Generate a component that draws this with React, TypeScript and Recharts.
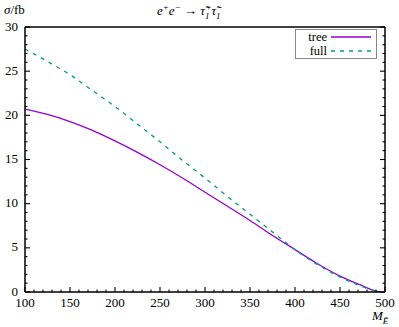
import React from 'react';
import { LineChart, Line, XAxis, YAxis, Legend } from 'recharts';

const mass = [100, 125, 150, 175, 200, 225, 250, 275, 300, 325, 350, 375, 400, 425, 450, 475, 490, 495];
const tree = [20.7, 20.1, 19.3, 18.3, 17.1, 15.8, 14.4, 12.9, 11.3, 9.7, 8.1, 6.4, 4.8, 3.2, 1.8, 0.7, 0.1, 0];
const full = [27.5, 26.1, 24.6, 22.8, 21.0, 19.0, 17.0, 14.9, 12.9, 10.8, 8.8, 6.8, 4.8, 3.1, 1.7, 0.6, 0.1, 0];
const seriesNames = ['tree', 'full'];

const xMajor = [100, 150, 200, 250, 300, 350, 400, 450, 500];
const xMinor = [100, 110, 120, 130, 140, 150, 160, 170, 180, 190, 200, 210, 220, 230, 240, 250, 260, 270, 280, 290, 300, 310, 320, 330, 340, 350, 360, 370, 380, 390, 400, 410, 420, 430, 440, 450, 460, 470, 480, 490, 500];
const yMajor = [0, 5, 10, 15, 20, 25, 30];
const yMinor = [0, 1, 2, 3, 4, 5, 6, 7, 8, 9, 10, 11, 12, 13, 14, 15, 16, 17, 18, 19, 20, 21, 22, 23, 24, 25, 26, 27, 28, 29, 30];

const data = mass.map((m, i) => ({ m, tree: tree[i], full: full[i] }));

const FONT = '"Liberation Serif", "DejaVu Serif", serif';
const PURPLE = '#9400d3';
const GREEN = '#009e73';
const XD: [number, number] = [100, 500];
const YD: [number, number] = [0, 30];
const MAJ = 5;
const MIN = 2.5;

const mkTick = (side: 'bottom' | 'top' | 'left' | 'right', majors: number[], labels: boolean) => (props: any) => {
  const { x, y, payload } = props;
  const v = payload.value;
  const major = majors.includes(v);
  const len = major ? MAJ : MIN;
  let line;
  if (side === 'bottom') line = <line x1={x} x2={x} y1={y} y2={y - len} stroke="#000" strokeWidth={1.1} />;
  else if (side === 'top') line = <line x1={x} x2={x} y1={y} y2={y + len} stroke="#000" strokeWidth={1.1} />;
  else if (side === 'left') line = <line x1={x} x2={x + len} y1={y} y2={y} stroke="#000" strokeWidth={1.1} />;
  else line = <line x1={x} x2={x - len} y1={y} y2={y} stroke="#000" strokeWidth={1.1} />;
  let label = null;
  if (labels && major) {
    if (side === 'bottom') label = <text x={x} y={y + 15} textAnchor="middle" fontFamily={FONT} fontSize={13} fill="#000">{v}</text>;
    else if (side === 'left') label = <text x={x - 7} y={y + 3.5} textAnchor="end" fontFamily={FONT} fontSize={13} fill="#000">{v}</text>;
  }
  return <g>{line}{label}</g>;
};

const LegendBox = (props: any) => {
  const payload = [...(props.payload || [])].sort((a: any, b: any) => seriesNames.indexOf(a.value) - seriesNames.indexOf(b.value));
  return (
    <div style={{ border: '1px solid #888', background: '#fff', padding: '0px 5px 0px 5px', fontFamily: FONT, fontSize: 12.5, boxSizing: 'border-box', width: 82, height: 30 }}>
      {payload.map((p: any) => (
        <div key={p.value} style={{ display: 'flex', alignItems: 'center', justifyContent: 'flex-end', height: 14, lineHeight: '14px' }}>
          <span style={{ marginRight: 4 }}>{p.value}</span>
          <svg width={40} height={8}>
            <line x1={0} y1={4} x2={40} y2={4} stroke={p.color} strokeWidth={1.3} strokeDasharray={p.payload && p.payload.strokeDasharray ? p.payload.strokeDasharray : undefined} />
          </svg>
        </div>
      ))}
    </div>
  );
};

export default function App() {
  const frame = { stroke: '#000', strokeWidth: 1.5 };
  return (
    <div style={{ position: 'absolute', left: 0, top: 0, width: 399, height: 327, background: '#fff' }}>
      <LineChart width={399} height={327} data={data} margin={{ top: 0, right: 0, bottom: 0, left: 0 }}>
        <XAxis xAxisId="main" dataKey="m" type="number" domain={XD} allowDataOverflow ticks={xMinor} interval={0} height={35}
          tickLine={false} axisLine={frame} tickSize={0} tickMargin={0} tick={mkTick('bottom', xMajor, true)} />
        <XAxis xAxisId="top" orientation="top" type="number" domain={XD} allowDataOverflow ticks={xMinor} interval={0} height={27}
          tickLine={false} axisLine={frame} tickSize={0} tickMargin={0} tick={mkTick('top', xMajor, false)} />
        <YAxis yAxisId="main" type="number" domain={YD} allowDataOverflow ticks={yMinor} interval={0} width={25}
          tickLine={false} axisLine={frame} tickSize={0} tickMargin={0} tick={mkTick('left', yMajor, true)} />
        <YAxis yAxisId="right" orientation="right" type="number" domain={YD} allowDataOverflow ticks={yMinor} interval={0} width={14}
          tickLine={false} axisLine={frame} tickSize={0} tickMargin={0} tick={mkTick('right', yMajor, false)} />

        <Line xAxisId="main" yAxisId="main" type="monotone" dataKey="tree" name="tree" stroke={PURPLE} strokeWidth={1.3} dot={false} isAnimationActive={false} />
        <Line xAxisId="main" yAxisId="main" type="monotone" dataKey="full" name="full" stroke={GREEN} strokeWidth={1.3} strokeDasharray="4 5" dot={false} isAnimationActive={false} />
        <Legend content={<LegendBox />} layout="horizontal" verticalAlign="middle" align="center"
          wrapperStyle={{ position: 'absolute', left: 295, top: 29, width: 82 }} />
      </LineChart>
      <div style={{ position: 'absolute', left: 4, top: 2, fontFamily: FONT, fontSize: 13 }}>
        <i>σ</i>/fb
      </div>
      <div style={{ position: 'absolute', left: 157, top: 2, fontFamily: FONT, fontSize: 13, fontStyle: 'italic', whiteSpace: 'nowrap' }}>
        e<sup style={{ fontSize: 9 }}>+</sup>e<sup style={{ fontSize: 9 }}>−</sup> <span style={{ fontStyle: 'normal' }}>→</span> τ̃<sub style={{ fontSize: 9 }}>1</sub><sup style={{ fontSize: 9, marginLeft: -4 }}>+</sup>τ̃<sub style={{ fontSize: 9 }}>1</sub><sup style={{ fontSize: 9, marginLeft: -4 }}>−</sup>
      </div>
      <div style={{ position: 'absolute', left: 372, top: 308, fontFamily: FONT, fontSize: 13, fontStyle: 'italic', whiteSpace: 'nowrap' }}>
        M<sub style={{ fontSize: 9 }}>Ẽ</sub>
      </div>
    </div>
  );
}
